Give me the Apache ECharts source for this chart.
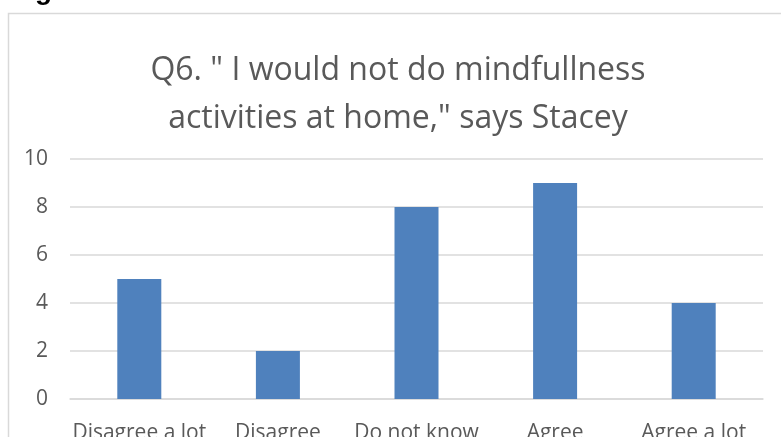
<!DOCTYPE html>
<html>
<head>
<meta charset="utf-8">
<script src="https://cdn.jsdelivr.net/npm/echarts@6/dist/echarts.min.js"></script>
<style>
  html, body { margin: 0; padding: 0; background: #fff; }
  #chart { width: 781px; height: 437px; }
</style>
</head>
<body>
<div id="chart"></div>
<script>
// Survey responses for Q6
const categories = ['Disagree a lot', 'Disagree', 'Do not know', 'Agree', 'Agree a lot'];
const responses = [5, 2, 8, 9, 4];
const yTicks = { min: 0, max: 10, step: 2 };
const titleLines = ['Q6. " I would not do mindfullness', 'activities at home," says Stacey'];
const figureCaption = 'Figure 6';

const FONT = '"Open Sans", Lato, sans-serif';
const chart = echarts.init(document.getElementById('chart'), null, { renderer: 'canvas' });

chart.setOption({
  animation: false,
  backgroundColor: '#ffffff',
  graphic: [
    {
      // chart frame; it runs past the right and bottom edges of the page
      type: 'rect',
      shape: { x: 8.5, y: 13.5, width: 900, height: 600 },
      style: { fill: null, stroke: '#d9d9d9', lineWidth: 1.5 },
      silent: true
    },
    {
      // chart title, centred over the whole frame
      type: 'text',
      x: 398,
      y: 47,
      style: {
        text: titleLines.join('\n'),
        align: 'center',
        verticalAlign: 'top',
        fontFamily: FONT,
        fontSize: 32,
        lineHeight: 48,
        fill: '#595959'
      },
      silent: true
    },
    {
      type: 'text',
      left: 10,
      top: -23,
      style: {
        text: figureCaption,
        font: 'bold 28px "Liberation Sans", Arial, sans-serif',
        fill: '#000000'
      },
      silent: true
    }
  ],
  grid: { left: 70, right: 18, top: 159, bottom: 38, containLabel: false, outerBoundsMode: 'none' },
  xAxis: {
    type: 'category',
    data: categories,
    axisLine: { show: true, lineStyle: { color: '#d9d9d9', width: 1.5 } },
    axisTick: { show: false },
    axisLabel: {
      fontFamily: FONT,
      fontSize: 21,
      color: '#595959',
      margin: 24,
      interval: 0
    }
  },
  yAxis: {
    type: 'value',
    min: yTicks.min,
    max: yTicks.max,
    interval: yTicks.step,
    axisLine: { show: false },
    axisTick: { show: false },
    splitLine: { lineStyle: { color: '#d9d9d9', width: 1.5 } },
    axisLabel: {
      fontFamily: FONT,
      fontSize: 21,
      color: '#595959',
      margin: 22
    }
  },
  series: [{
    type: 'bar',
    data: responses,
    barWidth: 44,
    itemStyle: { color: '#4f81bd' }
  }]
});
</script>
</body>
</html>
